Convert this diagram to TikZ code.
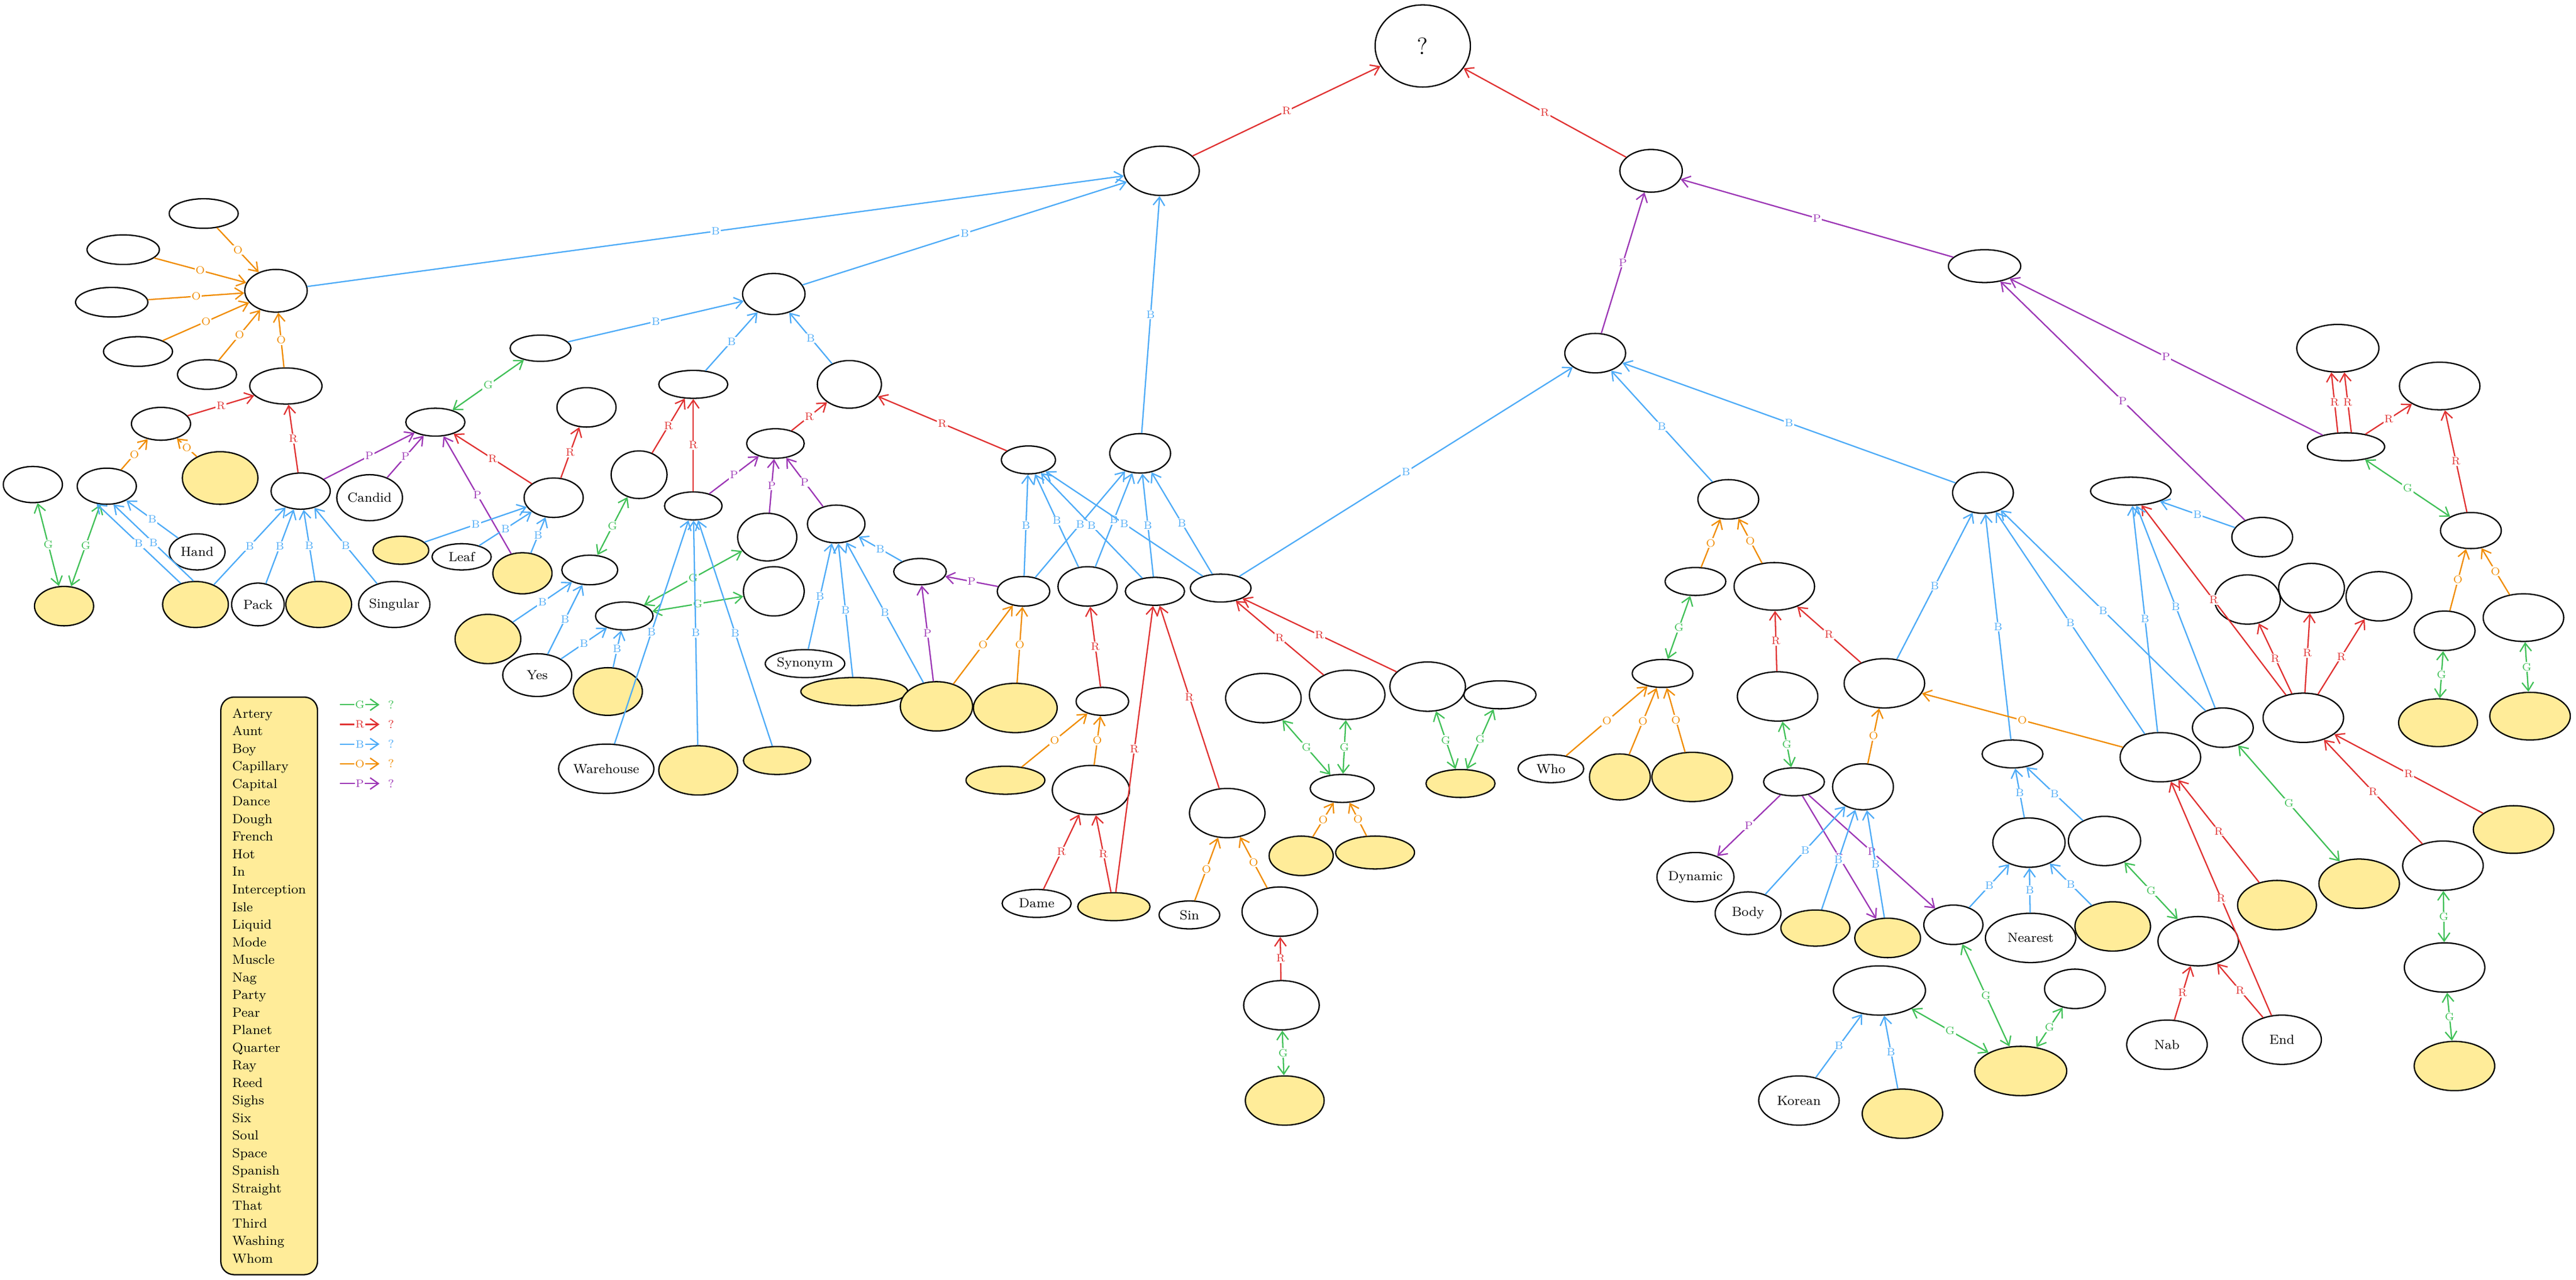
\documentclass[tikz,border=0pt]{standalone}
\usepackage{tikz}
\usetikzlibrary{shapes.geometric, arrows.meta}

\definecolor{cG}{HTML}{40C057}
\definecolor{cR}{HTML}{E03131}
\definecolor{cB}{HTML}{4DABF7}
\definecolor{cO}{HTML}{F08C00}
\definecolor{cP}{HTML}{9C36B5}
\definecolor{yfill}{HTML}{FFEC99}

\tikzset{
  nd/.style 2 args={draw, ellipse, thick, minimum width=#1pt, minimum height=#2pt, inner sep=0pt, font=\footnotesize},
  yl/.style 2 args={nd={#1}{#2}, fill=yfill},
  tip/.tip={Straight Barb[length=5pt,width=7pt]},
  lab/.style={nodes={fill=white, inner sep=0.6pt, font=\fontsize{6.5}{7}\selectfont}},
  eg/.style={cG, thick, tip-tip, lab, nodes={text=cG}},
  er/.style={cR, thick, -tip, lab, nodes={text=cR}},
  eb/.style={cB, thick, -tip, lab, nodes={text=cB}},
  eo/.style={cO, thick, -tip, lab, nodes={text=cO}},
  ep/.style={cP, thick, -tip, lab, nodes={text=cP}},
}

\begin{document}
\begin{tikzpicture}[x=1pt, y=-1pt]
\useasboundingbox (0,0) rectangle (1568,779);

% top
\node[nd={58}{50}, font=\Large] (root) at (866,28) {?};
\node[nd={46}{30}] (a) at (707,104) {};
\node[nd={38}{26}] (b) at (1005,104) {};
\node[nd={44}{20}] (bp) at (1208,162) {};

% left hub
\node[nd={38}{26}] (c) at (168,177) {};
\node[nd={42}{18}] (o1) at (124,130) {};
\node[nd={44}{18}] (o2) at (75,152) {};
\node[nd={44}{18}] (o3) at (68,184) {};
\node[nd={42}{18}] (o4) at (84,214) {};
\node[nd={36}{18}] (o5) at (126,228) {};
\node[nd={44}{22}] (d) at (174,235) {};
\node[nd={36}{20}] (e) at (98,258) {};
\node[yl={46}{32}] (f) at (134,291) {};
\node[nd={36}{22}] (g) at (65,296) {};
\node[nd={36}{22}] (h) at (20,295) {};
\node[yl={36}{24}] (i) at (39,369) {};
\node[nd={36}{22}] (j) at (183,299) {};
\node[yl={40}{28}] (k) at (119,368) {};
\node[nd={34}{22}] (hand) at (120,336) {Hand};
\node[nd={32}{26}] (pack) at (157,368) {Pack};
\node[yl={40}{28}] (l) at (194,368) {};
\node[nd={42}{28}] (singular) at (240,368) {Singular};
\node[nd={40}{28}] (candid) at (225,303) {Candid};
\node[nd={36}{17}] (m) at (265,257) {};
\node[nd={37}{16}] (n) at (329,212) {};
\node[nd={38}{25}] (o) at (471,179) {};
\node[nd={36}{24}] (q) at (337,303) {};
\node[yl={34}{17}] (yq) at (244,335) {};
\node[nd={36}{16}] (leaf) at (281,339) {Leaf};
\node[yl={36}{25}] (yl) at (318,349) {};
\node[nd={36}{24}] (r1) at (357,248) {};
\node[nd={42}{17}] (t) at (422,234) {};
\node[nd={39}{29}] (tb) at (517,234) {};
\node[nd={34}{29}] (s) at (389,289) {};
\node[nd={35}{17}] (u) at (422,308) {};
\node[nd={35}{18}] (v) at (472,270) {};
\node[nd={36}{29}] (w) at (467,327) {};
\node[nd={35}{23}] (x) at (509,319) {};
\node[nd={34}{18}] (y) at (359,347) {};
\node[nd={35}{17}] (z) at (380,375) {};
\node[nd={37}{30}] (z2) at (471,360) {};
\node[yl={40}{30}] (y1) at (297,389) {};
\node[nd={42}{26}] (yes) at (327,411) {Yes};
\node[yl={42}{29}] (y2) at (370,421) {};
\node[nd={58}{30}] (warehouse) at (369,468) {Warehouse};
\node[yl={48}{30}] (yw2) at (425,469) {};
\node[yl={41}{17}] (yw3) at (473,463) {};
\node[nd={47}{17}] (synonym) at (490,404) {Synonym};
\node[yl={65}{17}] (ylong) at (520,421) {};
\node[yl={44}{30}] (yx3) at (570,430) {};
\node[yl={51}{30}] (yab) at (618,431) {};
\node[nd={32}{16}] (aa) at (560,348) {};
\node[nd={32}{18}] (ab) at (623,360) {};
\node[nd={33}{17}] (ac) at (626,280) {};
\node[nd={37}{24}] (ad) at (694,276) {};
\node[nd={36}{24}] (af) at (662,357) {};
\node[nd={36}{17}] (ag) at (703,360) {};
\node[nd={37}{17}] (ah) at (743,358) {};
\node[nd={32}{17}] (ai) at (671,427) {};
\node[yl={48}{17}] (ya1) at (612,475) {};
\node[nd={47}{30}] (aj) at (664,481) {};
\node[nd={42}{17}] (dame) at (631,550) {Dame};
\node[yl={44}{17}] (ydm) at (678,552) {};
\node[nd={46}{30}] (ak) at (747,495) {};
\node[nd={37}{17}] (sin) at (724,557) {Sin};
\node[nd={46}{30}] (al) at (779,555) {};
\node[nd={46}{30}] (am) at (780,612) {};
\node[yl={48}{30}] (an) at (782,670) {};
\node[nd={46}{30}] (ao) at (769,425) {};
\node[nd={46}{30}] (ap) at (820,423) {};
\node[nd={46}{30}] (aq) at (869,418) {};
\node[nd={44}{17}] (ar) at (913,423) {};
\node[nd={39}{17}] (as) at (817,480) {};
\node[yl={39}{24}] (ys1) at (792,521) {};
\node[yl={48}{20}] (ys2) at (837,519) {};
\node[yl={42}{17}] (yaq) at (889,477) {};

% right side
\node[nd={37}{24}] (k1) at (971,215) {};
\node[nd={37}{24}] (k2) at (1052,304) {};
\node[nd={37}{25}] (k3) at (1207,300) {};
\node[nd={37}{17}] (k4) at (1032,354) {};
\node[nd={49}{29}] (k5) at (1080,357) {};
\node[nd={37}{17}] (k6) at (1012,410) {};
\node[nd={40}{17}] (who) at (944,468) {Who};
\node[yl={37}{28}] (yk61) at (986,473) {};
\node[yl={49}{30}] (yk62) at (1030,473) {};
\node[nd={49}{30}] (k7) at (1082,424) {};
\node[nd={49}{30}] (k8) at (1147,416) {};
\node[nd={37}{17}] (k9) at (1092,476) {};
\node[nd={37}{28}] (k10) at (1134,479) {};
\node[nd={37}{17}] (k11) at (1225,459) {};
\node[nd={44}{30}] (k12) at (1235,513) {};
\node[nd={44}{30}] (k13) at (1281,512) {};
\node[nd={37}{24}] (k14) at (1353,443) {};
\node[nd={49}{30}] (k15) at (1315,461) {};
\node[nd={49}{30}] (k16) at (1402,437) {};
\node[nd={45}{30}] (dynamic) at (1032,534) {Dynamic};
\node[nd={40}{26}] (body) at (1064,556) {Body};
\node[yl={42}{22}] (yb1) at (1105,565) {};
\node[yl={40}{24}] (yb2) at (1149,571) {};
\node[nd={36}{24}] (k20) at (1189,563) {};
\node[nd={55}{30}] (nearest) at (1236,571) {Nearest};
\node[yl={46}{30}] (yk) at (1286,564) {};
\node[nd={56}{30}] (k21) at (1144,603) {};
\node[nd={49}{30}] (korean) at (1095,670) {Korean};
\node[yl={49}{30}] (yk2) at (1158,678) {};
\node[yl={56}{30}] (k22) at (1230,652) {};
\node[nd={37}{24}] (k23) at (1263,602) {};
\node[nd={49}{30}] (k24) at (1338,573) {};
\node[nd={49}{30}] (nab) at (1319,636) {Nab};
\node[nd={48}{30}] (end) at (1389,633) {End};
\node[yl={48}{30}] (ya) at (1386,551) {};
\node[yl={49}{30}] (yb) at (1436,538) {};
\node[nd={49}{30}] (kr) at (1487,527) {};
\node[yl={49}{29}] (yc) at (1530,505) {};
\node[nd={49}{30}] (kd) at (1488,589) {};
\node[yl={49}{30}] (ye) at (1494,649) {};
\node[nd={50}{29}] (r1t) at (1423,212) {};
\node[nd={49}{29}] (rr) at (1485,235) {};
\node[nd={47}{17}] (rh) at (1428,272) {};
\node[nd={37}{24}] (rs) at (1377,327) {};
\node[nd={49}{17}] (rb) at (1297,299) {};
\node[nd={37}{22}] (rg) at (1504,323) {};
\node[nd={40}{30}] (rc1) at (1368,365) {};
\node[nd={40}{30}] (rc2) at (1407,358) {};
\node[nd={40}{30}] (rc3) at (1448,363) {};
\node[nd={37}{24}] (ro1) at (1488,384) {};
\node[nd={49}{29}] (ro2) at (1536,376) {};
\node[yl={48}{29}] (ry1) at (1484,440) {};
\node[yl={49}{29}] (ry2) at (1540,436) {};

% legend
\node[draw, thick, fill=yfill, rounded corners=8pt, anchor=north west, minimum width=55pt, minimum height=351pt,
  align=left, inner sep=7pt, font=\fontsize{8}{10.7}\selectfont] (key) at (134,424) {%
Artery\\Aunt\\Boy\\Capillary\\Capital\\Dance\\Dough\\French\\Hot\\In\\Interception\\Isle\\Liquid\\Mode\\Muscle\\Nag\\%
Party\\Pear\\Planet\\Quarter\\Ray\\Reed\\Sighs\\Six\\Soul\\Space\\Spanish\\Straight\\That\\Third\\Washing\\Whom};
\foreach \c/\t [count=\r] in {cG/G, cR/R, cB/B, cO/O, cP/P} {
  \coordinate (ks\r) at (207,417+12*\r);
  \node[text=\c, font=\scriptsize] (kq\r) at (238,417+12*\r) {?};
  \draw[\c, thick, -tip, lab, nodes={text=\c}] (ks\r) -- node{\t} ++(24,0);
}

% edges
\draw[er] (a) -- node{R} (root);
\draw[er] (b) -- node{R} (root);
\draw[eb] (c) -- node{B} (a);
\draw[eb] (o) -- node{B} (a);
\draw[eb] (ad) -- node{B} (a);
\draw[ep] (k1) -- node{P} (b);
\draw[ep] (bp) -- node{P} (b);
\draw[ep] (rh) -- node{P} (bp);
\draw[ep] (rs) -- node{P} (bp);
\foreach \s in {o1,o2,o3,o4,o5,d} \draw[eo] (\s) -- node{O} (c);
\draw[er] (e) -- node{R} (d);
\draw[er] (j) -- node{R} (d);
\draw[eo] (f) -- node{O} (e);
\draw[eo] (g) -- node{O} (e);
\draw[eg] (i) -- node{G} (h);
\draw[eg] (i) -- node{G} (g);
\draw[eb] (k.125) -- node{B} (g.240);
\draw[eb] (k.95) -- node{B} (g.290);
\draw[eb] (hand) -- node{B} (g);
\draw[eb] (k) -- node{B} (j);
\foreach \s in {pack,l,singular} \draw[eb] (\s) -- node{B} (j);
\draw[ep] (j) -- node{P} (m);
\draw[ep] (candid) -- node{P} (m);
\draw[ep] (yl) -- node{P} (m);
\draw[er] (q) -- node{R} (m);
\draw[er] (q) -- node{R} (r1);
\draw[eg] (m) -- node{G} (n);
\draw[eb] (n) -- node{B} (o);
\foreach \s in {yq,leaf,yl} \draw[eb] (\s) -- node{B} (q);
\draw[eb] (t) -- node{B} (o);
\draw[eb] (tb) -- node{B} (o);
\draw[er] (s) -- node{R} (t);
\draw[er] (u) -- node{R} (t);
\draw[eg] (s) -- node{G} (y);
\draw[eb] (y1) -- node{B} (y);
\draw[eb] (yes) -- node{B} (y);
\draw[eb] (yes) -- node{B} (z);
\draw[eb] (y2) -- node{B} (z);
\draw[eg] (z) -- node{G} (w);
\draw[eg] (z) -- node{G} (z2);
\draw[ep] (u) -- node{P} (v);
\draw[ep] (w) -- node{P} (v);
\draw[ep] (x) -- node{P} (v);
\draw[er] (v) -- node{R} (tb);
\draw[er] (ac) -- node{R} (tb);
\foreach \s in {warehouse,yw2,yw3} \draw[eb] (\s) -- node{B} (u);
\foreach \s in {synonym,ylong,yx3,aa} \draw[eb] (\s) -- node{B} (x);
\draw[ep] (yx3) -- node{P} (aa);
\draw[ep] (ab) -- node{P} (aa);
\draw[eo] (yx3) -- node{O} (ab);
\draw[eo] (yab) -- node{O} (ab);
\foreach \s in {ab,af,ag,ah} {
  \draw[eb] (\s) -- node{B} (ac);
  \draw[eb] (\s) -- node{B} (ad);
}
\draw[eb] (ah) -- node{B} (k1);
\draw[er] (ai) -- node{R} (af);
\draw[eo] (ya1) -- node{O} (ai);
\draw[eo] (aj) -- node{O} (ai);
\draw[er] (dame) -- node{R} (aj);
\draw[er] (ydm) -- node{R} (aj);
\draw[er] (ydm) -- node{R} (ag);
\draw[er] (ak) -- node{R} (ag);
\draw[eo] (sin) -- node{O} (ak);
\draw[eo] (al) -- node{O} (ak);
\draw[er] (am) -- node{R} (al);
\draw[eg] (am) -- node{G} (an);
\draw[er] (ap) -- node{R} (ah);
\draw[er] (aq) -- node{R} (ah);
\draw[eg] (as) -- node{G} (ao);
\draw[eg] (as) -- node{G} (ap);
\draw[eo] (ys1) -- node{O} (as);
\draw[eo] (ys2) -- node{O} (as);
\draw[eg] (yaq) -- node{G} (aq);
\draw[eg] (yaq) -- node{G} (ar);
\draw[eb] (k2) -- node{B} (k1);
\draw[eb] (k3) -- node{B} (k1);
\draw[eo] (k4) -- node{O} (k2);
\draw[eo] (k5) -- node{O} (k2);
\draw[eg] (k6) -- node{G} (k4);
\foreach \s in {who,yk61,yk62} \draw[eo] (\s) -- node{O} (k6);
\draw[er] (k7) -- node{R} (k5);
\draw[er] (k8) -- node{R} (k5);
\draw[eb] (k8) -- node{B} (k3);
\draw[eg] (k9) -- node{G} (k7);
\draw[eo] (k10) -- node{O} (k8);
\draw[eb] (k11) -- node{B} (k3);
\draw[eb] (k15) -- node{B} (k3);
\draw[eb] (k14) -- node{B} (k3);
\draw[eo] (k15) -- node{O} (k8);
\draw[ep] (k9) -- node{P} (dynamic);
\draw[ep] (k9) -- node{P} (yb2);
\draw[ep] (k9) -- node{P} (k20);
\foreach \s in {body,yb1,yb2} \draw[eb] (\s) -- node{B} (k10);
\draw[eb] (k12) -- node{B} (k11);
\draw[eb] (k13) -- node{B} (k11);
\foreach \s in {k20,nearest,yk} \draw[eb] (\s) -- node{B} (k12);
\draw[eb] (korean) -- node{B} (k21);
\draw[eb] (yk2) -- node{B} (k21);
\draw[eg] (k22) -- node{G} (k21);
\draw[eg] (k22) -- node{G} (k20);
\draw[eg] (k22) -- node{G} (k23);
\draw[eg] (k13) -- node{G} (k24);
\draw[er] (nab) -- node{R} (k24);
\draw[er] (end) -- node{R} (k24);
\draw[er] (end) -- node{R} (k15);
\draw[er] (ya) -- node{R} (k15);
\draw[eg] (k14) -- node{G} (yb);
\foreach \s in {rc1,rc2,rc3,rb} \draw[er] (k16) -- node{R} (\s);
\draw[er] (kr) -- node{R} (k16);
\draw[er] (yc) -- node{R} (k16);
\draw[eg] (kd) -- node{G} (kr);
\draw[eg] (kd) -- node{G} (ye);
\draw[eb] (k15) -- node{B} (rb);
\draw[eb] (k14) -- node{B} (rb);
\draw[eb] (rs) -- node{B} (rb);
\draw[er] (rh.120) -- node{R} (r1t.255);
\draw[er] (rh.70) -- node{R} (r1t.285);
\draw[er] (rh) -- node{R} (rr);
\draw[eg] (rh) -- node{G} (rg);
\draw[er] (rg) -- node{R} (rr);
\draw[eo] (ro1) -- node{O} (rg);
\draw[eo] (ro2) -- node{O} (rg);
\draw[eg] (ro1) -- node{G} (ry1);
\draw[eg] (ro2) -- node{G} (ry2);

\end{tikzpicture}
\end{document}
